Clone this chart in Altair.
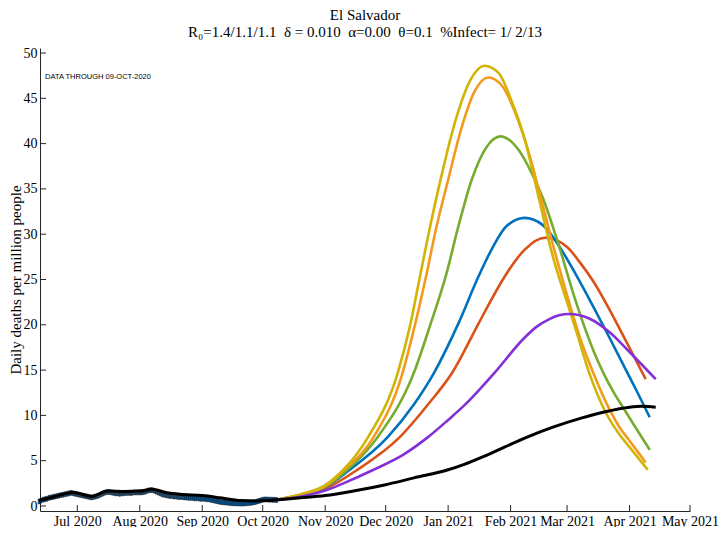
import altair as alt
import pandas as pd

# ---------------- data ----------------
bar_start = "2020-06-12"
bar_values = [
    0.5, 0.6, 0.7, 0.75, 0.8, 0.9, 0.95,
    1.0, 1.05, 1.1, 1.15, 1.2, 1.25, 1.3,
    1.35, 1.4, 1.45, 1.4, 1.35, 1.3, 1.25,
    1.2, 1.15, 1.1, 1.05, 1.0, 0.95, 1.0,
    1.05, 1.1, 1.2, 1.3, 1.4, 1.5, 1.55,
    1.55, 1.5, 1.45, 1.4, 1.4, 1.35, 1.4,
    1.4, 1.45, 1.45, 1.45, 1.45, 1.5, 1.5,
    1.5, 1.5, 1.5, 1.55, 1.6, 1.7, 1.75,
    1.75, 1.7, 1.6, 1.5, 1.4, 1.3, 1.25,
    1.2, 1.15, 1.1, 1.1, 1.05, 1.05, 1.0,
    1.0, 1.0, 0.95, 0.95, 0.9, 0.9, 0.9,
    0.85, 0.85, 0.85, 0.8, 0.8, 0.8, 0.75,
    0.75, 0.7, 0.65, 0.6, 0.55, 0.5, 0.45,
    0.42, 0.4, 0.38, 0.35, 0.33, 0.3, 0.3,
    0.28, 0.28, 0.27, 0.27, 0.28, 0.3, 0.32,
    0.35, 0.38, 0.42, 0.48, 0.55, 0.62, 0.7,
    0.72, 0.72, 0.7, 0.7, 0.68, 0.68, 0.66,
]

yellow_dates = ["2020-10-09", "2020-10-20", "2020-11-01", "2020-11-10", "2020-11-22", "2020-12-07",
                "2020-12-13", "2020-12-18", "2020-12-23", "2020-12-28", "2021-01-05", "2021-01-12",
                "2021-01-19", "2021-01-26", "2021-02-02", "2021-02-08", "2021-02-15", "2021-02-22",
                "2021-03-01", "2021-03-06", "2021-03-12", "2021-03-20", "2021-03-27", "2021-04-01",
                "2021-04-10"]
yellow_vals = [0.75, 1.3, 2.3, 4.0, 7.5, 14.7, 19.8, 25.3, 30.8, 35.8, 42.8, 47.0,
               48.6, 47.8, 44.4, 40.5, 34.0, 27.5, 22.5, 19.0, 14.7, 10.4, 7.9, 6.5,
               4.0]

orange_dates = ["2020-10-09", "2020-10-20", "2020-11-01", "2020-11-10", "2020-11-25", "2020-12-09",
                "2020-12-15", "2020-12-21", "2020-12-26", "2021-01-01", "2021-01-08", "2021-01-14",
                "2021-01-21", "2021-01-28", "2021-02-04", "2021-02-10", "2021-02-16", "2021-02-23",
                "2021-03-02", "2021-03-08", "2021-03-14", "2021-03-20", "2021-03-27", "2021-04-01",
                "2021-04-09"]
orange_vals = [0.75, 1.25, 2.2, 3.9, 7.6, 14.4, 19.5, 25.3, 30.6, 36.0, 42.0, 45.7,
               47.3, 46.3, 43.0, 39.0, 34.0, 28.0, 22.5, 18.2, 14.7, 11.6, 8.7, 7.2,
               4.8]

green_dates = ["2020-10-09", "2020-10-20", "2020-11-01", "2020-11-11", "2020-11-27", "2020-12-15",
               "2020-12-23", "2020-12-31", "2021-01-06", "2021-01-13", "2021-01-20", "2021-01-27",
               "2021-02-05", "2021-02-12", "2021-02-17", "2021-02-25", "2021-03-05", "2021-03-14",
               "2021-03-19", "2021-03-24", "2021-03-29", "2021-04-05", "2021-04-11"]
green_vals = [0.75, 1.2, 2.1, 3.8, 7.6, 14.7, 19.9, 25.5, 30.8, 36.2, 39.6, 40.8,
              39.3, 36.5, 34.0, 28.7, 22.8, 17.2, 14.7, 12.6, 10.8, 8.3, 6.2]

blue_dates = ["2020-10-09", "2020-10-20", "2020-11-01", "2020-11-12", "2020-12-02", "2020-12-15",
              "2020-12-25", "2021-01-06", "2021-01-16", "2021-01-23", "2021-01-30", "2021-02-08",
              "2021-02-17", "2021-02-25", "2021-03-05", "2021-03-14", "2021-03-22", "2021-03-30",
              "2021-04-05", "2021-04-11"]
blue_vals = [0.72, 1.2, 2.1, 3.8, 7.6, 11.2, 14.7, 20.1, 25.3, 28.5, 30.9, 31.8,
             31.0, 28.7, 25.7, 22.0, 18.6, 15.1, 12.5, 9.8]

red_dates = ["2020-10-09", "2020-10-20", "2020-11-01", "2020-11-17", "2020-12-08", "2020-12-22",
             "2021-01-03", "2021-01-16", "2021-01-23", "2021-01-29", "2021-02-08", "2021-02-18",
             "2021-03-01", "2021-03-07", "2021-03-14", "2021-03-22", "2021-03-30", "2021-04-09"]
red_vals = [0.7, 1.1, 1.9, 4.0, 7.6, 11.2, 14.7, 20.1, 23.0, 25.3, 28.3, 29.6,
            28.6, 27.0, 24.8, 21.7, 18.3, 14.0]

purple_dates = ["2020-10-09", "2020-10-20", "2020-11-01", "2020-11-10", "2020-11-25", "2020-12-10",
                "2020-12-22", "2021-01-01", "2021-01-09", "2021-01-24", "2021-02-08", "2021-02-14",
                "2021-02-20", "2021-02-25", "2021-03-02", "2021-03-12", "2021-03-22", "2021-04-01",
                "2021-04-14"]
purple_vals = [0.7, 1.05, 1.7, 2.5, 4.0, 5.7, 7.6, 9.5, 11.1, 14.7, 18.6, 19.8,
               20.6, 21.05, 21.2, 20.7, 19.2, 17.0, 14.0]

black_dates = ["2020-06-12", "2020-06-20", "2020-06-29", "2020-07-08", "2020-07-16", "2020-07-25",
               "2020-08-01", "2020-08-07", "2020-08-14", "2020-08-21", "2020-09-01", "2020-09-10",
               "2020-09-20", "2020-09-28", "2020-10-04", "2020-10-09", "2020-10-20", "2020-11-01",
               "2020-11-15", "2020-12-01", "2020-12-15", "2021-01-01", "2021-01-09", "2021-01-20",
               "2021-02-08", "2021-02-22", "2021-03-08", "2021-03-20", "2021-04-01", "2021-04-07",
               "2021-04-14"]
black_vals = [0.6, 1.05, 1.5, 1.05, 1.65, 1.6, 1.65, 1.85, 1.5, 1.3, 1.15, 0.9,
              0.6, 0.55, 0.62, 0.7, 0.9, 1.15, 1.65, 2.35, 3.1, 4.0, 4.6, 5.6,
              7.5, 8.7, 9.7, 10.4, 10.9, 11.0, 10.9]

y_ticks = [0, 5, 10, 15, 20, 25, 30, 35, 40, 45, 50]
x_ticks = ["2020-07-01", "2020-08-01", "2020-09-01", "2020-10-01", "2020-11-01", "2020-12-01",
           "2021-01-01", "2021-02-01", "2021-03-01", "2021-04-01", "2021-05-01"]
x_domain = ["2020-06-12T12:00:00", "2021-05-01T00:00:00"]

title_text = "El Salvador"
subtitle_text = "R\u2080=1.4/1.1/1.1\u00a0\u00a0\u03b4 = 0.010\u00a0\u00a0\u03b1=0.00\u00a0\u00a0\u03b8=0.1\u00a0\u00a0%Infect= 1/ 2/13"
note_text = "DATA THROUGH 09-OCT-2020"

# ---------------- build ----------------
W, H = 650, 463
serif = "Liberation Serif"

bdates = pd.date_range(bar_start, periods=len(bar_values), freq="D")
bars_df = pd.DataFrame({
    "x0": bdates - pd.Timedelta(hours=10),
    "x1": bdates + pd.Timedelta(hours=10),
    "v": bar_values,
})

xscale = alt.Scale(domain=x_domain)
yscale = alt.Scale(domain=[0, 50])

x_axis = alt.Axis(values=x_ticks, format="%b %Y", labelFont=serif, labelFontSize=14,
                  labelColor="black", ticks=False, grid=False, domainColor="#262626",
                  labelPadding=3, labelOverlap=False, labelFlush=False, title=None)
y_axis = alt.Axis(values=y_ticks, labelFont=serif, labelFontSize=14, labelColor="black",
                  ticks=False, grid=False, domainColor="#262626", labelPadding=3,
                  labelFlush=False,
                  title="Daily deaths per million people", titleFont=serif, titleFontSize=15,
                  titleFontWeight="normal", titleColor="black", titlePadding=0)

bars = alt.Chart(bars_df).mark_bar(color="#0b4f86", stroke="#02101c", strokeWidth=0.5).encode(
    x=alt.X("x0:T", scale=xscale, axis=x_axis),
    x2="x1:T",
    y=alt.Y("v:Q", scale=yscale, axis=y_axis),
)

def line(dates, vals, color, width):
    df = pd.DataFrame({"d": pd.to_datetime(dates), "v": vals})
    return alt.Chart(df).mark_line(color=color, strokeWidth=width, interpolate="monotone").encode(
        x=alt.X("d:T", scale=xscale),
        y=alt.Y("v:Q", scale=yscale),
    )

layers = [
    bars,
    line(red_dates, red_vals, "#D95319", 2.6),
    line(blue_dates, blue_vals, "#0072BD", 2.6),
    line(green_dates, green_vals, "#77AC30", 2.6),
    line(orange_dates, orange_vals, "#F39A1E", 2.6),
    line(yellow_dates, yellow_vals, "#D2B406", 2.6),
    line(purple_dates, purple_vals, "#8330D6", 2.6),
    line(black_dates, black_vals, "black", 3.0),
]

ytick_df = pd.DataFrame({"v": y_ticks})
ytick_rules = alt.Chart(ytick_df).mark_rule(color="#262626", strokeWidth=1).encode(
    y=alt.Y("v:Q", scale=yscale), x=alt.value(0), x2=alt.value(6))
xtick_df = pd.DataFrame({"d": pd.to_datetime(x_ticks)})
xtick_rules = alt.Chart(xtick_df).mark_rule(color="#262626", strokeWidth=1).encode(
    x=alt.X("d:T", scale=xscale), y=alt.value(H), y2=alt.value(H - 6))

note_df = pd.DataFrame({"d": pd.to_datetime(["2020-06-15"]), "v": [47.3], "t": [note_text]})
note = alt.Chart(note_df).mark_text(align="left", baseline="middle", font="Liberation Sans",
                                    fontSize=7.5, color="black").encode(
    x=alt.X("d:T", scale=xscale), y=alt.Y("v:Q", scale=yscale), text="t:N")

chart = alt.layer(*layers, ytick_rules, xtick_rules, note).properties(
    width=W, height=H,
    autosize=alt.AutoSizeParams(type="none"),
    padding={"left": 32, "top": 40, "right": 29, "bottom": 16},
    title=alt.TitleParams(text=title_text, subtitle=subtitle_text, font=serif, fontSize=15,
                          fontWeight="normal", color="black", subtitleFont=serif,
                          subtitleFontSize=15, subtitleColor="black", anchor="middle",
                          offset=6, subtitlePadding=2),
).configure(background="white").configure_view(stroke=None)

chart.save("out.html", embed_options={"renderer": "svg", "actions": False})
